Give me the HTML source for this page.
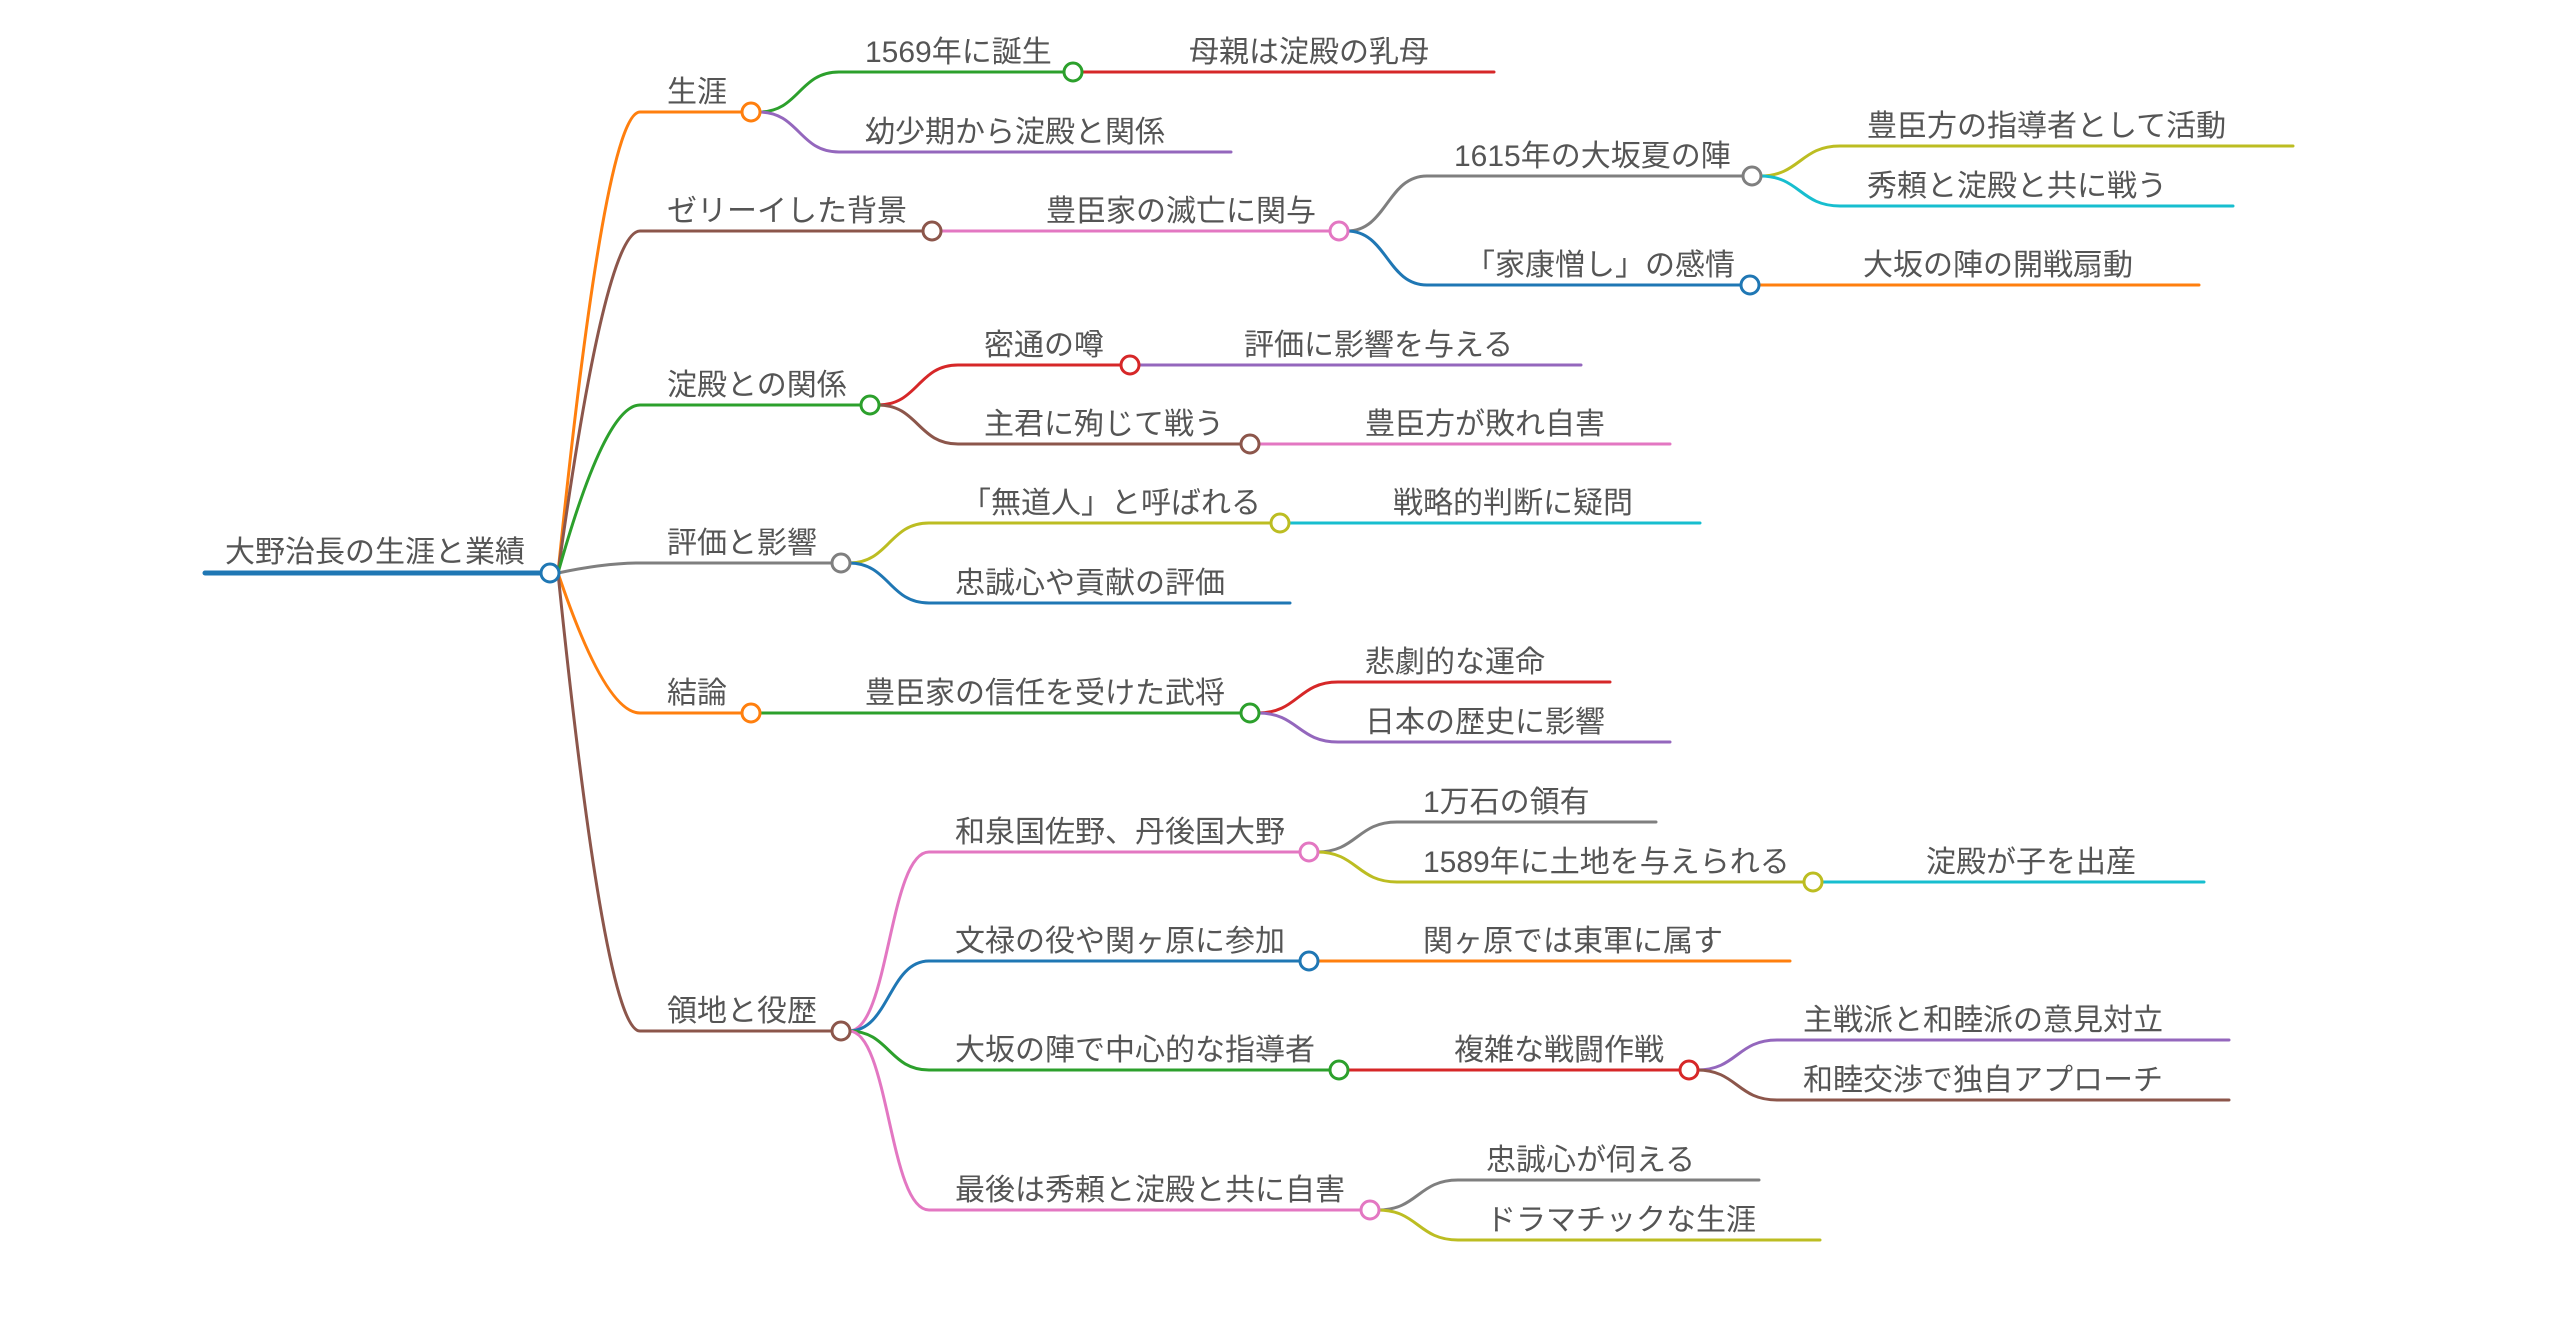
<!DOCTYPE html>
<html><head><meta charset="utf-8"><style>
html,body{margin:0;padding:0;background:#fff;}
svg{display:block;}
text{font-family:"Liberation Sans","Noto Sans CJK JP",sans-serif;font-size:30px;fill:#555;}
path{fill:none;stroke-width:3;stroke-linecap:round;}
circle{fill:#fff;stroke-width:3;}
</style></head><body>
<svg width="2560" height="1334" viewBox="0 0 2560 1334" xmlns="http://www.w3.org/2000/svg">
<path d="M205 573 L542 573" stroke="#1f77b4" style="stroke-width:5"/>
<text x="225" y="562">大野治長の生涯と業績</text>

<path d="M558 573 Q605 112 640 112 L743 112" stroke="#ff7f0e"/>
<path d="M558 573 Q605 231 640 231 L924 231" stroke="#8c564b"/>
<path d="M558 573 Q605 405 640 405 L862 405" stroke="#2ca02c"/>
<path d="M558 573 Q605 563 640 563 L833 563" stroke="#7f7f7f"/>
<path d="M558 573 Q605 713 640 713 L743 713" stroke="#ff7f0e"/>
<path d="M558 573 Q605 1031 640 1031 L833 1031" stroke="#8c564b"/>
<text x="667" y="102">生涯</text>
<text x="667" y="221">ゼリーイした背景</text>
<text x="667" y="395">淀殿との関係</text>
<text x="667" y="553">評価と影響</text>
<text x="667" y="703">結論</text>
<text x="667" y="1021">領地と役歴</text>

<path d="M759 112 C799 112 799 72 839 72 L1065 72" stroke="#2ca02c"/>
<path d="M759 112 C799 112 799 152 839 152 L1231 152" stroke="#9467bd"/>
<text x="865" y="62">1569年に誕生</text>
<text x="865" y="142">幼少期から淀殿と関係</text>
<path d="M1081 72 L1494 72" stroke="#d62728"/>
<text x="1189" y="62">母親は淀殿の乳母</text>

<path d="M940 231 L1331 231" stroke="#e377c2"/>
<text x="1046" y="221">豊臣家の滅亡に関与</text>
<path d="M1347 231 C1387 231 1387 176 1427 176 L1744 176" stroke="#7f7f7f"/>
<path d="M1347 231 C1387 231 1387 285 1427 285 L1742 285" stroke="#1f77b4"/>
<text x="1454" y="166">1615年の大坂夏の陣</text>
<text x="1465" y="275">「家康憎し」の感情</text>
<path d="M1760 176 C1800 176 1800 146 1840 146 L2293 146" stroke="#bcbd22"/>
<path d="M1760 176 C1800 176 1800 206 1840 206 L2233 206" stroke="#17becf"/>
<text x="1867" y="136">豊臣方の指導者として活動</text>
<text x="1867" y="196">秀頼と淀殿と共に戦う</text>
<path d="M1758 285 L2199 285" stroke="#ff7f0e"/>
<text x="1863" y="275">大坂の陣の開戦扇動</text>

<path d="M878 405 C918 405 918 365 958 365 L1122 365" stroke="#d62728"/>
<path d="M878 405 C918 405 918 444 958 444 L1242 444" stroke="#8c564b"/>
<text x="984" y="355">密通の噂</text>
<text x="984" y="434">主君に殉じて戦う</text>
<path d="M1138 365 L1581 365" stroke="#9467bd"/>
<text x="1244" y="355">評価に影響を与える</text>
<path d="M1258 444 L1670 444" stroke="#e377c2"/>
<text x="1365" y="434">豊臣方が敗れ自害</text>

<path d="M849 563 C889 563 889 523 929 523 L1272 523" stroke="#bcbd22"/>
<path d="M849 563 C889 563 889 603 929 603 L1290 603" stroke="#1f77b4"/>
<text x="961" y="513">「無道人」と呼ばれる</text>
<text x="955" y="593">忠誠心や貢献の評価</text>
<path d="M1288 523 L1700 523" stroke="#17becf"/>
<text x="1393" y="513">戦略的判断に疑問</text>

<path d="M759 713 L1242 713" stroke="#2ca02c"/>
<text x="865" y="703">豊臣家の信任を受けた武将</text>
<path d="M1258 713 C1298 713 1298 682 1338 682 L1610 682" stroke="#d62728"/>
<path d="M1258 713 C1298 713 1298 742 1338 742 L1670 742" stroke="#9467bd"/>
<text x="1365" y="672">悲劇的な運命</text>
<text x="1365" y="732">日本の歴史に影響</text>

<path d="M849 1031 C889 1031 889 852 929 852 L1301 852" stroke="#e377c2"/>
<path d="M849 1031 C889 1031 889 961 929 961 L1301 961" stroke="#1f77b4"/>
<path d="M849 1031 C889 1031 889 1070 929 1070 L1331 1070" stroke="#2ca02c"/>
<path d="M849 1031 C889 1031 889 1210 929 1210 L1362 1210" stroke="#e377c2"/>
<text x="955" y="842">和泉国佐野、丹後国大野</text>
<text x="955" y="951">文禄の役や関ヶ原に参加</text>
<text x="955" y="1060">大坂の陣で中心的な指導者</text>
<text x="955" y="1200">最後は秀頼と淀殿と共に自害</text>

<path d="M1317 852 C1357 852 1357 822 1397 822 L1656 822" stroke="#7f7f7f"/>
<path d="M1317 852 C1357 852 1357 882 1397 882 L1805 882" stroke="#bcbd22"/>
<text x="1423" y="812">1万石の領有</text>
<text x="1423" y="872">1589年に土地を与えられる</text>
<path d="M1821 882 L2204 882" stroke="#17becf"/>
<text x="1926" y="872">淀殿が子を出産</text>

<path d="M1317 961 L1790 961" stroke="#ff7f0e"/>
<text x="1423" y="951">関ヶ原では東軍に属す</text>

<path d="M1347 1070 L1681 1070" stroke="#d62728"/>
<text x="1454" y="1060">複雑な戦闘作戦</text>
<path d="M1697 1070 C1737 1070 1737 1040 1777 1040 L2229 1040" stroke="#9467bd"/>
<path d="M1697 1070 C1737 1070 1737 1100 1777 1100 L2229 1100" stroke="#8c564b"/>
<text x="1803" y="1030">主戦派と和睦派の意見対立</text>
<text x="1803" y="1090">和睦交渉で独自アプローチ</text>

<path d="M1378 1210 C1418 1210 1418 1180 1458 1180 L1759 1180" stroke="#7f7f7f"/>
<path d="M1378 1210 C1418 1210 1418 1240 1458 1240 L1820 1240" stroke="#bcbd22"/>
<text x="1486" y="1170">忠誠心が伺える</text>
<text x="1486" y="1230">ドラマチックな生涯</text>

<circle cx="550" cy="573" r="9" stroke="#1f77b4"/>
<circle cx="751" cy="112" r="9" stroke="#ff7f0e"/>
<circle cx="932" cy="231" r="9" stroke="#8c564b"/>
<circle cx="870" cy="405" r="9" stroke="#2ca02c"/>
<circle cx="841" cy="563" r="9" stroke="#7f7f7f"/>
<circle cx="751" cy="713" r="9" stroke="#ff7f0e"/>
<circle cx="841" cy="1031" r="9" stroke="#8c564b"/>
<circle cx="1073" cy="72" r="9" stroke="#2ca02c"/>
<circle cx="1339" cy="231" r="9" stroke="#e377c2"/>
<circle cx="1752" cy="176" r="9" stroke="#7f7f7f"/>
<circle cx="1750" cy="285" r="9" stroke="#1f77b4"/>
<circle cx="1130" cy="365" r="9" stroke="#d62728"/>
<circle cx="1250" cy="444" r="9" stroke="#8c564b"/>
<circle cx="1280" cy="523" r="9" stroke="#bcbd22"/>
<circle cx="1250" cy="713" r="9" stroke="#2ca02c"/>
<circle cx="1309" cy="852" r="9" stroke="#e377c2"/>
<circle cx="1813" cy="882" r="9" stroke="#bcbd22"/>
<circle cx="1309" cy="961" r="9" stroke="#1f77b4"/>
<circle cx="1339" cy="1070" r="9" stroke="#2ca02c"/>
<circle cx="1689" cy="1070" r="9" stroke="#d62728"/>
<circle cx="1370" cy="1210" r="9" stroke="#e377c2"/>
</svg>
</body></html>
